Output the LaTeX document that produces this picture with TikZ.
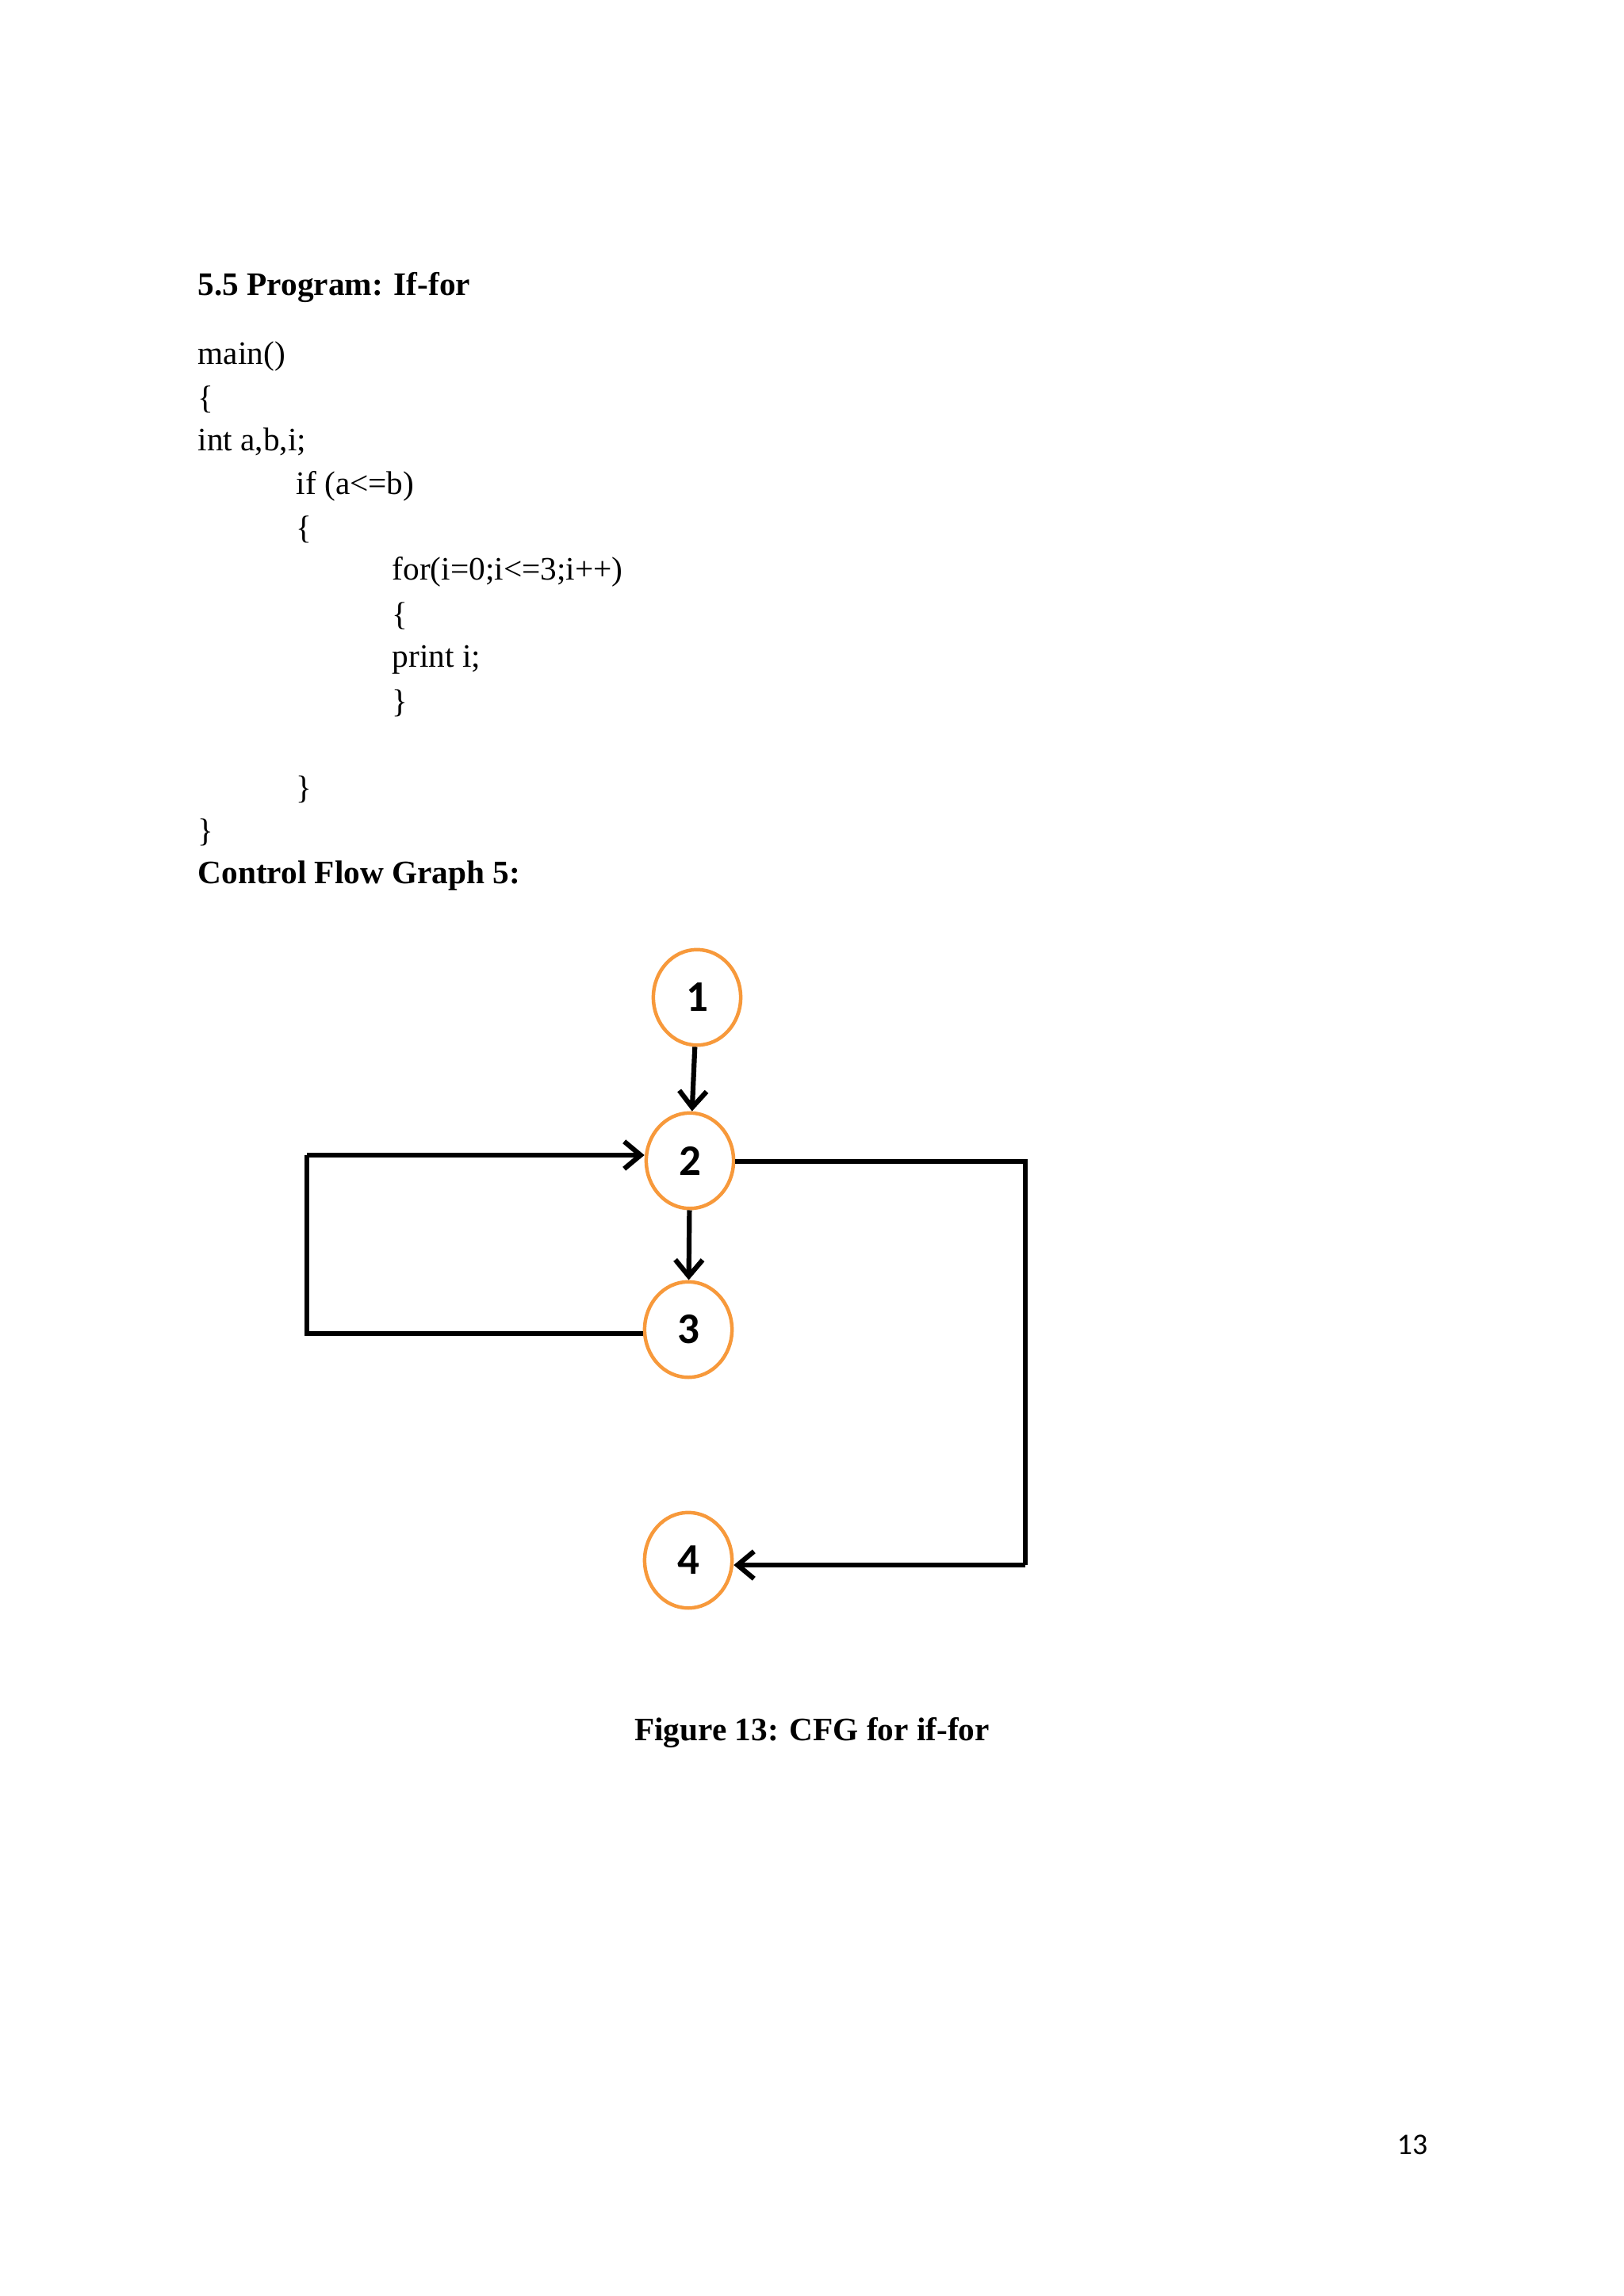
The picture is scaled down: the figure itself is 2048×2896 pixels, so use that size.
\documentclass[tikz,border=0pt]{standalone}
\usepackage{fontspec}
\setmainfont{Liberation Serif}
\newfontfamily\calib{Carlito}
\usetikzlibrary{arrows.meta,shapes.geometric}
\begin{document}
\begin{tikzpicture}[x=0.2905pt,y=-0.2905pt,
  txt/.style={anchor=west,inner sep=0,font=\fontsize{12}{14}\selectfont},
  cnode/.style={draw=orange!85!brown!80!white,line width=1.3pt,ellipse,minimum width=32pt,minimum height=35pt,inner sep=0,font=\calib\bfseries\fontsize{16}{18}\selectfont},
  edge/.style={line width=1.8pt,-{Straight Barb[length=6pt,width=10pt,line width=1.8pt]}},
  plain/.style={line width=1.8pt}]
\useasboundingbox (0,0) rectangle (2048,2896);
\fill[white] (0,0) rectangle (2048,2896);
\node[txt,font=\bfseries\fontsize{12}{14}\selectfont] (t) at (249,362) {5.5 Program: If-for};
\node[txt] (c1) at (249,450) {main()};
\node[txt] (c2) at (249,504) {\{};
\node[txt] (c3) at (249,557) {int a,b,i;};
\node[txt] (c4) at (373,613) {if (a<=b)};
\node[txt] (c5) at (373,668) {\{};
\node[txt] (c6) at (494,721) {for(i=0;i<=3;i++)};
\node[txt] (c7) at (494,777) {\{};
\node[txt] (c8) at (494,832) {print i;};
\node[txt] (c9) at (494,887) {\}};
\node[txt] (c10) at (373,996) {\}};
\node[txt] (c11) at (249,1050) {\}};
\node[txt,font=\bfseries\fontsize{12}{14}\selectfont] (h) at (249,1105) {Control Flow Graph 5:};
\node[inner sep=0,font=\bfseries\fontsize{12}{14}\selectfont] (cap) at (1024,2185) {Figure 13: CFG for if-for};
\node[inner sep=0,font=\calib\fontsize{11}{13}\selectfont] (pg) at (1781,2705) {13};
\node[cnode] (n1) at (879,1258) {1};
\node[cnode] (n2) at (870,1464) {2};
\node[cnode] (n3) at (868,1677) {3};
\node[cnode] (n4) at (868,1968) {4};
\coordinate (lt) at (387,1457);
\coordinate (lb) at (387,1682);
\coordinate (rt) at (1293,1465);
\coordinate (rb) at (1293,1974);
\draw[edge] (n1) -- (n2);
\draw[edge] (n2) -- (n3);
\draw[edge] (lt) -- (n2.west |- lt);
\draw[plain] (n3.west |- lb) -- (lb) -- (lt);
\draw[plain] (n2.east |- rt) -- (rt) -- (rb);
\draw[edge] (rb) -- (n4.east |- rb);
\end{tikzpicture}
\end{document}
